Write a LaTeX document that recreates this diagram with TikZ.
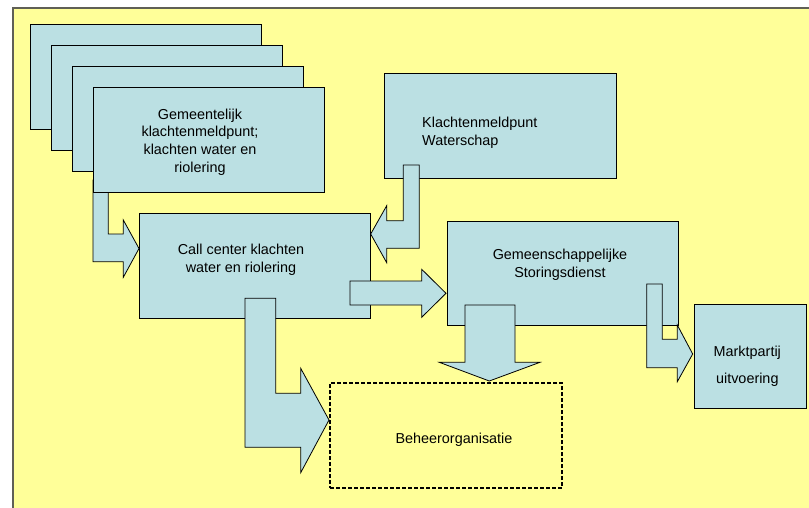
\documentclass[tikz,border=0pt]{standalone}
\usepackage{fontspec}
\setmainfont{Liberation Sans}
\definecolor{paper}{HTML}{FFFF99}
\definecolor{boxfill}{HTML}{BBE0E3}
\definecolor{framegray}{RGB}{96,96,86}
\begin{document}
\begin{tikzpicture}[x=1pt,y=-1pt,
    box/.style={draw,fill=boxfill,line width=0.8pt,minimum width=231pt,minimum height=105pt,inner sep=0pt},
    blockarrow/.style={draw,fill=boxfill,line width=0.8pt,line join=miter},
    lbl/.style={font=\fontsize{14.4pt}{17.7pt}\selectfont,align=center,inner sep=0pt}]
    \useasboundingbox (0,0) rectangle (809,508);
    \draw[fill=paper,draw=framegray,line width=1.7pt] (13,8) rectangle (830,530);
    \foreach \i in {0,1,2}
    {
        \node[box] (back\i) at (145.5+21*\i,76.5+21*\i) {};
    }
    \draw[blockarrow] (93,180) -- (108.3,180) -- (108.3,234) -- (123.3,234) -- (123.3,220) -- (139,248.5)
        -- (123.3,277.3) -- (123.3,261.7) -- (93,261.7) -- cycle;
    \node[box] (gem) at (208.5,139.5) {};
    \node[lbl] (gemtext) at (200,142) {Gemeentelijk\\klachtenmeldpunt;\\klachten water en\\riolering};
    \node[box,minimum width=232pt] (ws) at (500,125.5) {};
    \node[lbl,align=left,anchor=west] (wstext) at (422,133) {Klachtenmeldpunt\\Waterschap};
    \draw[blockarrow] (403.3,165) -- (419.3,165) -- (419.3,248.3) -- (386.7,248.3) -- (386.7,262.7) -- (370.7,234)
        -- (386.7,205.7) -- (386.7,220.7) -- (403.3,220.7) -- cycle;
    \node[box] (cc) at (254.8,265.8) {};
    \node[lbl] (cctext) at (241,260) {Call center klachten\\water en riolering};
    \node[box,minimum height=104pt] (sd) at (562.5,273) {};
    \node[lbl] (sdtext) at (560,265) {Gemeenschappelijke\\Storingsdienst};
    \draw[blockarrow] (350,281) -- (421.7,281) -- (421.7,269.3) -- (446,293.3) -- (421.7,317.3) -- (421.7,305)
        -- (350,305) -- cycle;
    \draw[blockarrow] (245,298.3) -- (275.7,298.3) -- (275.7,393.3) -- (300.7,393.3) -- (300.7,368.3) -- (329,420)
        -- (300.7,472.7) -- (300.7,447.3) -- (245,447.3) -- cycle;
    \draw[blockarrow] (465,305) -- (515,305) -- (515,362.3) -- (540,362.3) -- (489.3,381) -- (439.3,362.3)
        -- (465,362.3) -- cycle;
    \draw[blockarrow] (646.7,284) -- (662.3,284) -- (662.3,339.3) -- (677.3,339.3) -- (677.3,325) -- (692.7,354)
        -- (677.3,381.7) -- (677.3,367.7) -- (646.7,367.7) -- cycle;
    \node[draw,line width=1.8pt,dash pattern=on 4pt off 2pt,minimum width=232pt,minimum height=105pt] (bo) at (446,435.5) {};
    \node[lbl] (botext) at (454,440) {Beheerorganisatie};
    \node[box,minimum width=112pt,minimum height=104pt] (mp) at (750,356) {};
    \node[lbl,font=\fontsize{14.4pt}{27pt}\selectfont] (mptext) at (747.3,366.5) {Marktpartij\\uitvoering};
\end{tikzpicture}
\end{document}
